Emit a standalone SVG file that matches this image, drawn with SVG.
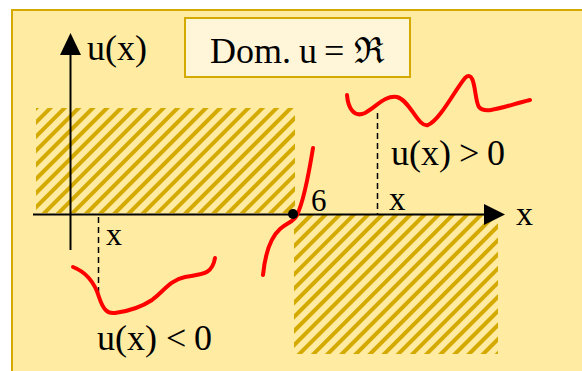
<svg xmlns="http://www.w3.org/2000/svg" width="582" height="371" viewBox="0 0 582 371">
<style>
.t{font-family:"Liberation Serif","DejaVu Serif",serif;fill:#000}
.curve{fill:none;stroke:#ff0000;stroke-width:4;stroke-linecap:round;stroke-linejoin:round}
.axis{stroke:#000;stroke-width:2;fill:none}
.dash{stroke:#000;stroke-width:1.5;stroke-dasharray:6 4;fill:none}
</style>
<defs>
<pattern id="hatch" patternUnits="userSpaceOnUse" width="10" height="10" patternTransform="rotate(45)">
<rect x="0" y="0" width="4" height="10" fill="#d4aa00"/>
</pattern>
</defs>
<rect x="0" y="0" width="582" height="371" fill="#ffffff"/>
<rect x="12" y="10" width="580" height="370" fill="#ffeba2" stroke="#d4aa00" stroke-width="2"/>
<g id="hatch-top"><rect x="36" y="108" width="259" height="105" fill="url(#hatch)"/></g>
<g id="hatch-bottom"><rect x="294" y="215" width="204" height="139" fill="url(#hatch)"/></g>
<g id="domain">
<rect x="185" y="18" width="225" height="59" fill="#fff5d8" stroke="#d4aa00" stroke-width="2"/>
<text class="t" font-size="36" y="63"><tspan x="210">Dom.</tspan><tspan x="299">u</tspan><tspan x="324">=</tspan><tspan x="354">ℜ</tspan></text>
</g>
<g id="connectors">
<line class="axis" x1="70.5" y1="52" x2="70.5" y2="250"/>
<polygon points="70.5,33 60,55 81,55" fill="#000"/>
<line class="axis" x1="33" y1="214.5" x2="486" y2="214.5"/>
<polygon points="505,214.5 484,204 484,225" fill="#000"/>
<line class="dash" x1="377.5" y1="113" x2="377.5" y2="214"/>
<line class="dash" x1="98.5" y1="217" x2="98.5" y2="293"/>
</g>
<g id="labels">
<text class="t" x="87" y="60" font-size="36">u(x)</text>
<text class="t" x="516" y="225" font-size="34">x</text>
<text class="t" x="311" y="211" font-size="31">6</text>
<text class="t" x="389" y="210" font-size="33">x</text>
<text class="t" x="106" y="245" font-size="32">x</text>
<text class="t" font-size="36" y="165"><tspan x="391">u(x)</tspan><tspan x="459">&gt;</tspan><tspan x="487">0</tspan></text>
<text class="t" font-size="36" y="350"><tspan x="97">u(x)</tspan><tspan x="166">&lt;</tspan><tspan x="194">0</tspan></text>
</g>
<g id="curves">
<path class="curve" d="M347,95 C348,108 354,118 365,113 C376,107 385,95 397,97 C410,100 418,128 428,125 C440,120 455,90 465,78 C476,68 474,100 479,107 C485,115 505,106 530,100"/>
<path class="curve" d="M73,267 C86,272 94,281 99,297 C103,309 107,314 115,313 C130,311 143,306 152,300 C163,292 170,280 185,277 C200,274 212,276 215,258"/>
<path class="curve" d="M263,275 C265,255 270,238 280,229 C288,222 294,222 297,215 C302,205 307,185 313,148"/>
<circle cx="293" cy="214" r="5" fill="#000"/>
</g>
</svg>
